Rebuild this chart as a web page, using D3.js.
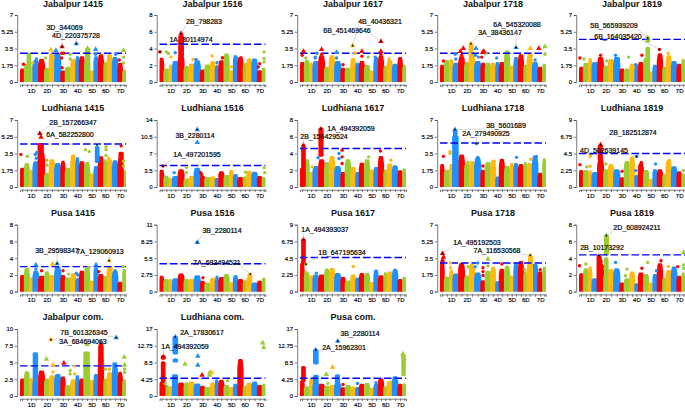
<!DOCTYPE html>
<html><head><meta charset="utf-8">
<script src="https://d3js.org/d3.v7.min.js"></script>
<style>
html,body{margin:0;padding:0;background:#fff}
svg{display:block}
text{font-family:"Liberation Sans",Arial,sans-serif}
</style></head><body>
<svg id="c" width="685" height="409"></svg>
<script>
// ---------- data ----------
const chromosomes=["1A","1B","1D","2A","2B","2D","3A","3B","3D","4A","4B","4D","5A","5B","5D","6A","6B","6D","7A","7B","7D","Un"];
const chromLengthMb=[594,689,495,780,801,651,750,830,615,744,673,509,709,713,566,618,720,473,736,750,638,480];
const titles=["Jabalpur 1415","Jabalpur 1516","Jabalpur 1617","Jabalpur 1718","Jabalpur 1819","Ludhiana 1415","Ludhiana 1516","Ludhiana 1617","Ludhiana 1718","Ludhiana 1819","Pusa 1415","Pusa 1516","Pusa 1617","Pusa 1718","Pusa 1819","Jabalpur com.","Ludhiana com.","Pusa com."];
const yMax=[7,8,7,7,7,7,14,8,7,9,8,11,9,7,8,10,17,17];
const thresholds=[3,4.5,3,3,4.45,4.5,4.5,4.6,4.6,4.5,3,4.6,4.6,3,4.4,4.5,4.5,4.5];
// body height of each chromosome, per panel
const h_J1415=[1.4,1.9,1.7,2.3,2.4,1.5,3.0,3.0,1.2,1.6,2.4,2.7,2.7,2.4,1.2,2.7,2.9,2.1,2.9,2.6,2.0,1.3];
const h_J1516=[2.9,1.6,2.1,2.5,3.3,1.9,2.2,2.6,1.5,2.1,2.5,2.0,2.6,3.4,1.4,3.2,3.0,2.3,2.8,2.8,1.4,1.7];
const h_J1617=[2.1,2.3,2.0,2.2,2.8,1.6,2.8,2.2,1.5,1.5,2.5,2.0,2.2,1.8,1.2,2.6,2.8,1.7,2.3,1.9,2.6,1.8];
const h_J1718=[1.8,2.3,2.4,2.0,2.7,2.1,2.9,2.2,2.0,2.0,2.0,2.1,2.1,3.3,1.7,2.6,2.9,1.8,2.9,2.1,1.6,1.9];
const h_J1819=[1.6,2.0,2.5,2.1,2.6,1.7,2.4,2.6,1.4,1.4,1.9,1.6,2.1,2.5,1.1,1.8,3.0,1.6,2.8,2.2,1.9,2.4];
const h_L1415=[2.0,2.5,1.8,2.7,3.8,1.5,2.9,2.5,2.6,2.0,3.4,3.1,2.7,2.6,1.4,2.2,3.2,2.9,2.9,2.8,3.0,1.8];
const h_L1516=[3.6,2.3,1.9,2.3,3.7,1.8,2.3,4.0,2.4,2.1,2.2,1.9,3.3,2.5,3.6,2.7,2.1,2.2,3.4,3.2,2.3,2.1];
const h_L1617=[2.3,3.3,1.8,2.5,3.3,3.0,3.7,2.5,1.8,3.3,2.4,1.8,2.9,3.3,2.1,2.4,3.7,2.1,2.8,2.6,2.0,2.2];
const h_L1718=[2.4,1.8,2.4,3.0,3.4,2.5,2.7,3.1,1.8,2.6,2.8,1.1,2.9,2.2,2.5,2.5,2.4,2.6,2.5,3.3,1.5,3.0];
const h_L1819=[2.3,2.3,2.2,2.0,3.8,2.4,3.1,2.4,1.3,3.5,4.1,1.6,3.2,2.3,1.1,2.4,2.4,1.7,3.6,2.8,2.1,1.8];
const h_P1415=[2.0,2.8,1.7,2.5,1.9,2.4,2.0,3.0,2.0,1.7,2.2,1.6,2.5,2.9,1.3,2.9,2.1,1.9,3.0,2.5,1.2,2.7];
const h_P1516=[2.6,2.1,2.1,2.2,3.0,2.1,2.1,2.7,1.8,1.5,2.3,2.3,2.4,2.9,1.6,2.7,2.1,1.9,2.4,1.5,1.8,2.3];
const h_P1617=[3.9,2.6,2.2,2.3,2.3,3.1,3.2,2.5,2.0,1.5,2.3,1.9,2.5,2.5,1.3,2.9,2.2,2.6,2.7,3.0,1.7,2.0];
const h_P1718=[3.2,1.6,2.3,1.9,3.0,1.7,2.9,2.0,1.2,2.2,2.6,1.1,2.4,2.7,1.7,3.0,3.2,2.1,3.0,2.9,2.1,2.6];
const h_P1819=[2.2,2.8,3.0,1.6,3.4,2.1,2.7,2.8,1.1,1.6,2.4,1.0,2.3,2.1,1.1,2.1,3.4,1.7,2.6,3.0,1.9,2.3];
const h_Jcom=[2.6,3.7,2.7,2.4,3.8,2.6,3.1,3.3,2.9,1.6,2.5,3.1,2.6,4.5,2.4,3.3,5.9,2.6,3.6,4.3,3.5,2.5];
const h_Lcom=[3.6,2.8,2.5,3.5,3.4,3.4,3.7,3.2,2.6,2.3,3.4,3.9,4.1,2.8,2.3,3.1,9.4,2.6,3.4,3.7,2.8,3.1];
const h_Pcom=[4.0,2.5,4.4,3.6,3.1,2.6,2.8,3.4,2.2,2.8,2.4,2.3,3.1,3.3,2.1,3.1,4.5,2.5,3.9,5.0,3.1,3.2];
// dense runs of SNPs: [panel index, chromosome index, from fraction, to fraction, top, bottom]
const spikes=[[0,1,.8,1.0,3.0,0],[0,13,.4,.8,3.5,0],[1,4,.3,.7,5.5,3],[3,6,.2,.5,3.9,0],[4,13,.7,.95,3.6,0],[4,13,.7,.95,4.7,4.1],
[5,4,.1,.6,4.5,0],[5,15,.6,.9,4.2,2.5],[5,20,.5,.9,3.6,0],[7,0,.65,.95,4.8,0],[7,4,.25,.55,7.0,3.6],[8,3,.15,.7,5.3,0],[8,3,.3,.5,6.0,0],
[9,4,.3,.6,5.6,3.5],[12,0,.65,.95,7.0,3.5],[13,18,.5,.8,3.6,0],[14,4,.1,.4,4.2,0],[14,5,.45,.8,6.7,4.3],[14,5,.45,.7,4.0,2],
[15,3,.25,.6,6.4,0],[15,13,.1,.7,6.5,0],[15,16,.3,.7,7.5,5],[15,19,.3,.6,4.9,0],
[16,0,.7,1,8.6,0],[16,0,.7,1,10.2,9.2],[16,3,.2,.7,5.3,0],[16,3,.3,.7,9.3,8.6],[16,3,.3,.7,15,10.5],
[17,0,.65,.95,7.4,3.5],[17,3,.3,.7,5.2,0],[17,3,.3,.7,11.7,8],[17,7,.3,.6,5.3,0],[17,21,.15,.45,10.5,5]];
// individual SNPs above the body: [chromosome index, fraction along chromosome, -log10 p]
const d_J1415=[[0,.8,1.85],[2,.9,2.0],[3,.6,2.4],[5,.2,2.5],[6,.3,3.35],[6,.3,2.8],[7,.2,3.3],[7,.2,2.8],[8,.2,3.0],[8,.6,3.0],[8,.2,2.5],[8,.3,1.5],[9,.9,2.9],[9,.9,2.4],[13,.6,3.5],[15,.4,3.4],[15,.4,2.9],[19,.6,2.9],[20,.3,2.3],[21,.3,3.3],[21,.3,2.6],[21,.3,2.0]];
const d_J1516=[[0,.1,3.6],[1,.5,3.6],[1,.9,3.4],[2,.6,3.0],[3,.5,3.5],[6,.8,2.7],[7,.3,2.7],[10,.4,3.1],[11,.5,2.3],[12,.7,2.9],[14,.6,1.8],[15,.4,2.2],[16,.6,2.9],[18,.7,2.6],[20,.5,2.2],[20,.2,1.8],[21,.6,3.6],[21,.6,2.8],[21,.6,2.4]];
const d_J1617=[[0,.5,2.8],[0,.8,3.2],[1,.3,2.5],[3,.4,2.5],[3,.4,2.6],[3,.7,3.0],[4,.5,2.9],[4,.5,3.4],[7,.3,3.1],[7,.3,2.5],[8,.5,1.8],[10,.9,3.0],[12,.5,2.7],[12,.5,3.2],[13,.7,2.6],[15,.3,2.6],[16,.5,3.2],[16,.5,2.9],[18,.4,2.4],[20,.4,2.0]];
const d_J1718=[[0,.8,2.2],[3,.4,2.9],[3,.5,2.4],[4,.3,3.2],[4,.5,2.8],[4,.8,3.5],[4,.7,2.4],[7,.2,3.5],[7,.1,2.8],[7,.6,2.6],[8,.4,3.1],[8,.7,3.2],[8,.2,2.6],[9,.1,3.0],[11,.3,2.5],[18,.6,3.5],[18,.8,2.8],[20,.2,3.5],[21,.7,3.7],[21,.7,2.9],[19,.5,2.3]];
const d_J1819=[[0,.2,2.5],[1,.1,2.4],[4,.5,2.8],[5,.7,2.2],[7,.3,2.8],[7,.8,2.4],[9,.8,2.6],[11,.3,1.8],[11,.5,1.7],[12,.7,2.8],[18,.4,3.0]];
const d_L1415=[[0,.2,3.4],[1,.6,3.2],[3,.4,3.4],[3,.7,3.6],[3,.6,3.0],[4,.2,4.3],[4,.4,5.2],[5,.5,2.8],[5,.5,2.3],[8,.5,2.6],[12,.3,2.0],[13,.2,3.9],[13,.9,3.7],[17,.7,3.9],[17,.7,4.2],[17,.7,3.3],[18,.3,3.0],[20,.7,4.3],[21,.3,2.7],[21,.3,2.2]];
const d_L1516=[[3,.3,3.0],[5,.5,4.1],[5,.5,3.0],[7,.5,9.3],[8,.1,3.0],[8,.3,2.6],[17,.7,3.1],[21,.6,4.0],[21,.8,3.0]];
const d_L1617=[[2,.8,2.4],[3,.9,3.5],[7,.7,3.4],[7,.7,4.0],[8,.3,2.8],[8,.3,3.6],[8,.3,4.4],[13,.8,3.6],[16,.4,4.3],[18,.7,3.2]];
const d_L1718=[[0,.8,3.2],[2,.2,3.7],[2,.2,3.5],[5,.7,2.6],[7,.5,3.1],[8,.5,2.2],[10,.7,2.7],[12,.5,2.8],[15,.6,3.1],[18,.7,2.9],[19,.7,3.2]];
const d_L1819=[[0,.2,3.0],[1,.7,2.7],[2,.5,4.1],[2,.5,2.8],[5,.5,3.1],[8,.5,2.1],[11,.6,4.1],[11,.3,2.2],[12,.6,3.3],[15,.6,3.1],[18,.6,3.6],[21,.5,2.2]];
const d_P1415=[[1,.7,2.7],[3,.5,3.2],[3,.5,2.7],[3,.8,2.0],[4,.5,2.5],[6,.6,3.3],[8,.5,2.5],[9,.6,2.1],[11,.2,2.2],[11,.6,2.0],[13,.8,2.9],[15,.5,3.2],[16,.1,2.4],[18,.8,2.7],[19,.5,2.5],[21,.3,3.0],[21,.6,2.4]];
const d_P1516=[[8,.6,2.3],[11,.5,2.4],[15,.4,2.2],[18,.5,2.7],[18,.8,2.5]];
const d_P1617=[[1,.3,2.6],[3,.6,2.5],[10,.5,3.4],[15,.5,2.8],[19,.5,2.9]];
const d_P1718=[[0,.6,3.3],[0,.8,3.6],[2,.3,3.0],[2,.3,2.5],[5,.8,2.6],[7,.5,3.0],[7,.1,2.6],[8,.5,2.5],[8,.5,2.1],[8,.5,1.7],[9,.5,3.4],[9,.5,2.7],[12,.5,2.9],[17,.3,2.3],[20,.5,2.3]];
const d_P1819=[[0,.1,3.1],[1,.5,3.3],[4,.6,3.6],[4,.8,3.0],[5,.6,3.2],[7,.3,3.5],[9,.5,2.7],[9,.2,1.9],[12,.7,2.8],[13,.8,3.5],[15,.8,2.5],[16,.7,3.7],[18,.4,3.0],[20,.2,3.0],[21,.6,4.7],[21,.6,3.2],[21,.6,2.8]];
const d_Jcom=[[5,.4,5.5],[6,.7,4.6],[6,.7,3.6],[8,.7,4.9],[9,.9,3.3],[9,.9,3.8],[10,.8,3.3],[10,.8,4.5],[13,.5,7.7],[16,.5,7.8],[17,.5,4.0],[18,.4,4.0],[20,.5,3.4],[21,.6,3.5],[21,.6,4.0],[21,.6,4.6],[21,.5,5.8]];
const d_Lcom=[[1,.3,3.1],[3,.5,8.9],[5,.2,8.1],[7,.6,10.1],[7,.6,7.8],[8,.4,5.3],[9,.9,5.3],[9,.9,5.9],[10,.3,5.9],[11,.4,3.8],[13,.7,3.9],[21,.2,13.5],[21,.5,12.3]];
const d_Pcom=[[5,.4,5.5],[5,.7,3.2],[6,.6,7.3],[8,.5,2.9],[11,.5,3.2],[15,.5,3.4],[21,.4,9.5],[21,.1,10.7]];
// named SNPs: [chromosome index, fraction along chromosome, -log10 p, name]
const n_J1415=[[8,.3,3.7,"3D_344069"],[11,.2,4.0,"4D_220375728"]];
const n_J1516=[[0,.1,3.6,"1A_30114974"],[4,.5,5.8,"2B_798283"]];
const n_J1617=[[10,.4,3.8,"4B_40436321"],[16,.5,4.25,"6B_451469646"]];
const n_J1718=[[6,.3,4.0,"3A_38436147"],[15,.5,3.6,"6A_545320088"]];
const n_J1819=[[13,.8,4.6,"5B_565939209"],[16,.4,3.4,"6B_164035420"]];
const n_L1415=[[4,.2,5.6,"2B_157266347"],[15,.7,4.45,"6A_582252800"]];
const n_L1516=[[0,.8,4.4,"1A_497201595"],[7,.5,12,"3B_2280114"]];
const n_L1617=[[0,.8,5.0,"2B_156429524"],[4,.4,6.9,"1A_494392059"]];
const n_L1718=[[3,.35,6.0,"3B_5601689"],[7,.3,4.55,"2A_279490925"]];
const n_L1819=[[4,.5,5.7,"2B_182512874"],[11,.5,4.1,"4D_502639145"]];
const n_P1415=[[7,.4,3.35,"3B_29598347"],[18,.4,3.7,"7A_129060913"]];
const n_P1516=[[7,.5,8.1,"3B_2280114"],[18,.7,2.9,"7A_683494521"]];
const n_P1617=[[0,.8,7.0,"1A_494393037"],[1,.3,3.7,"1B_647195634"]];
const n_P1718=[[0,.6,4.0,"1A_495192503"],[18,.6,3.8,"7A_116530568"]];
const n_P1819=[[4,.2,4.3,"2B_10173292"],[5,.6,6.7,"2D_608924211"]];
const n_Jcom=[[6,.3,8.4,"3A_684694063"],[19,.7,8.7,"7B_601326345"]];
const n_Lcom=[[0,.9,10,"1A_494392059"],[3,.5,15,"2A_17830617"]];
const n_Pcom=[[3,.5,11.7,"2A_15962301"],[7,.5,13.9,"3B_2280114"]];
const heights=[h_J1415,h_J1516,h_J1617,h_J1718,h_J1819,h_L1415,h_L1516,h_L1617,h_L1718,h_L1819,h_P1415,h_P1516,h_P1617,h_P1718,h_P1819,h_Jcom,h_Lcom,h_Pcom];
const snps=[d_J1415,d_J1516,d_J1617,d_J1718,d_J1819,d_L1415,d_L1516,d_L1617,d_L1718,d_L1819,d_P1415,d_P1516,d_P1617,d_P1718,d_P1819,d_Jcom,d_Lcom,d_Pcom];
const named=[n_J1415,n_J1516,n_J1617,n_J1718,n_J1819,n_L1415,n_L1516,n_L1617,n_L1718,n_L1819,n_P1415,n_P1516,n_P1617,n_P1718,n_P1819,n_Jcom,n_Lcom,n_Pcom];

// ---------- layout ----------
const colX=[20,159.5,300,440,579], plotW=106, plotH=67;
const rowTop=[15,120,224.7,329];
const labelAt={ // text centres in page pixels, one entry per panel, same order as named
 0:[[64.5,28],[76,36]],1:[[191,40],[204,22]],2:[[380,22],[347,31]],3:[[500,33],[517,25]],4:[[614,26],[618,37]],
 5:[[73,123],[70,135]],6:[[197,155],[195,136]],7:[[324,137],[351,129]],8:[[506,126],[486,134]],9:[[633,133],[604,151]],
 10:[[57,251],[100,252]],11:[[222,231],[217,263]],12:[[325,230],[342,253]],13:[[477,243],[497,251]],14:[[602,248],[637,228]],
 15:[[83,342],[84,333]],16:[[185,347],[202,333]],17:[[344,348],[360,334]]};
const colors=["#FF0000","#9ACD32","#FFB90F","#1E90FF"];
const colorOf=i=>colors[i%4];
const axisCol="#444";
const hillAt=[-.1,.04,.2,.5,.8,.96,1.1], hillShape=[.72,.93,1,1,1,.93,.72];
const dotR=1.7;

const svg=d3.select("#c");
const starts=d3.cumsum([0,...chromLengthMb]);
const total=starts[starts.length-1];
const mid=i=>starts[i]+chromLengthMb[i]/2;
const tri=d3.symbol().type(d3.symbolTriangle).size(13);

titles.forEach((title,p)=>{
  const row=p<5?0:p<10?1:p<15?2:3, col=p<15?p%5:p-15;
  const x0=colX[col], top=rowTop[row], bot=top+plotH;
  const x=d3.scaleLinear().domain([0,total]).range([x0,x0+plotW]);
  const y=d3.scaleLinear().domain([0,yMax[p]]).range([bot,top]);
  const g=svg.append("g");
  g.append("text").text(title).attr("x",x0+53).attr("y",Math.max(7.2,top-8.6)).attr("text-anchor","middle")
    .attr("font-size",9).attr("font-weight","bold").attr("fill","#111");
  // axes
  const ya=d3.axisLeft(y).tickValues(d3.range(5).map(i=>yMax[p]*i/4)).tickSize(2.4).tickPadding(1.6).tickFormat(d3.format("~g"));
  const yg=g.append("g").attr("transform",`translate(${x0-2.8},0)`).call(ya);
  const xa=d3.axisBottom(x).tickValues(chromosomes.map((c,i)=>mid(i)))
    .tickFormat((d,i)=>chromosomes[i].endsWith("D")?chromosomes[i]:"").tickSize(2.4).tickPadding(1.4);
  const xg=g.append("g").attr("transform",`translate(0,${bot+2.7})`).call(xa);
  [yg,xg].forEach(a=>{
    a.selectAll("path,line").attr("stroke",axisCol).attr("stroke-width",.7);
    a.selectAll("text").attr("font-size",6).attr("fill","#000").attr("stroke","#000").attr("stroke-width",.15).attr("font-family",'"Liberation Sans",Arial,sans-serif');
  });
  // chromosome bodies
  const hill=(d,i)=>d3.area().curve(d3.curveMonotoneX)
      .x(j=>x(Math.min(total,Math.max(0,starts[i]+hillAt[j]*chromLengthMb[i])))).y0(bot).y1(j=>y(d*hillShape[j]))(d3.range(hillAt.length));
  g.append("g").selectAll("path").data(heights[p]).join("path")
    .attr("d",hill).attr("fill",(d,i)=>colorOf(i));
  // dense runs, widened by the radius of a dot on each side
  const sx=s=>x(starts[s[1]]+s[2]*chromLengthMb[s[1]])-dotR;
  g.append("g").selectAll("rect").data(spikes.filter(s=>s[0]===p)).join("rect")
    .attr("x",sx)
    .attr("width",s=>Math.min(x0+plotW,x(starts[s[1]]+s[3]*chromLengthMb[s[1]])+dotR)-sx(s))
    .attr("y",s=>y(s[4])-dotR/2).attr("height",s=>y(s[5])-y(s[4])+dotR/2).attr("rx",1.6).attr("fill",s=>colorOf(s[1]));
  const xOf=d=>x(starts[d[0]]+d[1]*chromLengthMb[d[0]]);
  // threshold
  g.append("line").attr("x1",x0).attr("x2",x0+plotW).attr("y1",y(thresholds[p])).attr("y2",y(thresholds[p]))
    .attr("stroke","#0000FF").attr("stroke-width",1.4).attr("stroke-dasharray","7.5,3");
  // SNPs: circles below threshold, triangles above it
  const all=[...snps[p],...named[p]];
  g.append("g").selectAll("circle").data(all.filter(d=>d[2]<=thresholds[p])).join("circle")
    .attr("cx",xOf).attr("cy",d=>y(d[2])).attr("r",dotR).attr("fill",d=>colorOf(d[0]));
  g.append("g").selectAll("path").data(all.filter(d=>d[2]>thresholds[p])).join("path")
    .attr("d",tri).attr("transform",d=>`translate(${xOf(d)},${y(d[2])})`).attr("fill",d=>colorOf(d[0]));
  // leaders, black centre and name
  named[p].forEach((d,i)=>{
    const [lx,ly]=labelAt[p][i];
    const mx=xOf(d), my=y(d[2]);
    const w=d[3].length*1.95;
    const ex=mx<lx-w?lx-w:mx>lx+w?lx+w:mx, ey=my>ly?ly+3:ly-3;
    g.append("line").attr("x1",mx).attr("y1",my).attr("x2",ex).attr("y2",ey).attr("stroke","#bbb").attr("stroke-width",.6);
    g.append("circle").attr("cx",mx).attr("cy",my).attr("r",.9).attr("fill","#000");
    g.append("text").text(d[3]).attr("x",lx).attr("y",ly+2.4).attr("text-anchor","middle").attr("font-size",7).attr("fill","#000").attr("stroke","#000").attr("stroke-width",.2);
  });
});
</script></body></html>
